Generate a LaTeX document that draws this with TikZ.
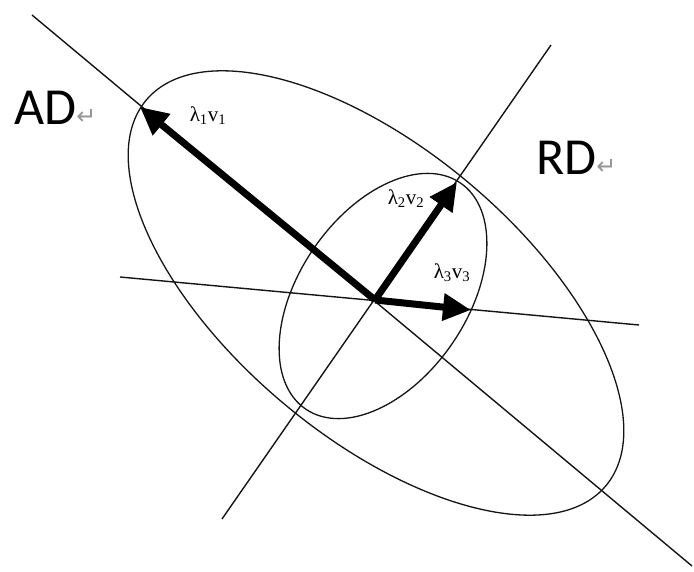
\documentclass[tikz,border=0pt]{standalone}
\usepackage{fontspec}
\setmainfont{Carlito}
\newfontfamily\symfont{DejaVu Sans}
\newfontfamily\serifgr{Liberation Serif}
\usepackage{xcolor}
\usepackage{tikz}
\usetikzlibrary{arrows.meta,positioning,calc}
\definecolor{clrAx}{RGB}{20,20,20}
\definecolor{clrMark}{RGB}{150,150,150}
\newcommand{\parmark}{{\symfont\fontsize{24}{26}\selectfont\color{clrMark}\char"21B5}}
\newcommand{\vlab}[1]{{\serifgr λ\textsubscript{#1}v\textsubscript{#1}}}
\tikzset{
  axis/.style={line width=1.4pt,color=clrAx},
  contour/.style={line width=1.3pt,color=clrAx},
  vec/.style={line width=7pt,color=black,-{Triangle[length=28pt,width=26pt]}},
  axlabel/.style={font=\fontsize{52}{58}\selectfont,inner sep=0pt,anchor=base west},
  veclabel/.style={font=\fontsize{21}{24}\selectfont,inner sep=0pt}
}

\begin{document}
\begin{tikzpicture}[x=1pt,y=1pt]
  \useasboundingbox (0,0) rectangle (694,571);

  % centre and axis ends
  \coordinate (O) at (375,271);
  \coordinate (adA) at (32,556);
  \coordinate (adB) at (692,5);
  \coordinate (rdA) at (551,526);
  \coordinate (rdB) at (222,52);
  \coordinate (hzA) at (120,294);
  \coordinate (hzB) at (639,246);

  % vector tips
  \coordinate (tipA) at (140,464);
  \coordinate (tipB) at (457,389);
  \coordinate (tipC) at (471,261);

  \draw[axis] (adA) -- (adB);
  \draw[axis] (rdA) -- (rdB);
  \draw[axis] (hzA) -- (hzB);

  \draw[contour,rotate around={-40:(376,278)}]
    (376,278) ellipse [x radius=300, y radius=144];
  \draw[contour,rotate around={55.6:(383,275)}]
    (383,275) ellipse [x radius=137, y radius=84];

  \draw[vec] (O) -- (tipA);
  \draw[vec] (O) -- (tipB);
  \draw[vec] (O) -- (tipC);

  \node[veclabel] (lab1) at (208,455) {\vlab{1}};
  \node[veclabel] (lab2) at (406,372) {\vlab{2}};
  \node[veclabel] (lab3) at (452,298) {\vlab{3}};

  \node[axlabel] (ad) at (14,446) {AD\parmark};
  \node[axlabel] (rd) at (536,396) {RD\parmark};
\end{tikzpicture}
\end{document}
